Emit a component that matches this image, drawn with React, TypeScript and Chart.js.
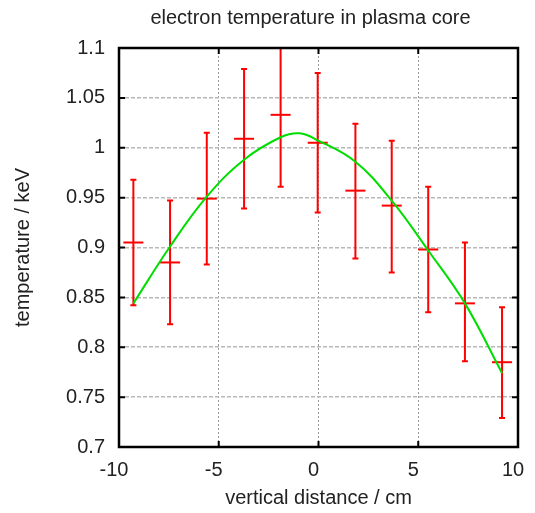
import { useEffect, useRef } from "react";
import { Chart, registerables } from "chart.js";

Chart.register(...registerables);

const chartTitle = "electron temperature in plasma core";
const xAxisTitle = "vertical distance / cm";
const yAxisTitle = "temperature / keV";

const xTicks = [-10, -5, 0, 5, 10];
const xTickLabels = ["-10", "-5", "0", "5", "10"];
const yTicks = [0.7, 0.75, 0.8, 0.85, 0.9, 0.95, 1.0, 1.05, 1.1];
const yTickLabels = ["0.7", "0.75", "0.8", "0.85", "0.9", "0.95", "1", "1.05", "1.1"];

// measurements
const xPos = [-9.28, -7.44, -5.6, -3.73, -1.9, -0.04, 1.85, 3.67, 5.5, 7.34, 9.2];
const temp = [0.905, 0.885, 0.949, 1.009, 1.033, 1.005, 0.957, 0.942, 0.898, 0.844, 0.785];
const errLow = [0.842, 0.823, 0.883, 0.939, 0.961, 0.935, 0.889, 0.875, 0.835, 0.786, 0.729];
const errHigh = [0.968, 0.947, 1.015, 1.079, 1.105, 1.075, 1.024, 1.007, 0.961, 0.905, 0.84];

// fitted profile
const fitX = [-9.28, -7.44, -5.6, -3.73, -1.9, -0.95, -0.04, 1.85, 3.67, 5.5, 7.34, 9.2];
const fitY = [0.844, 0.901, 0.951, 0.988, 1.0105, 1.0145, 1.0075, 0.986, 0.947, 0.897, 0.844, 0.774];

const FONT = '"Liberation Sans", Arial, Helvetica, sans-serif';
const TEXT = "#222";
const FS = 20;

const decorPlugin = {
  id: "decor",
  beforeDatasetsDraw(chart: any) {
    const { ctx, chartArea: a, scales } = chart;
    const x = scales.x;
    const y = scales.y;
    ctx.save();
    ctx.beginPath();
    ctx.rect(a.left, a.top, a.right - a.left, a.bottom - a.top);
    ctx.clip();
    ctx.strokeStyle = "#ff0000";
    ctx.lineWidth = 2;
    for (let i = 0; i < xPos.length; i++) {
      const px = x.getPixelForValue(xPos[i]);
      const lo = y.getPixelForValue(errLow[i]);
      const hi = y.getPixelForValue(errHigh[i]);
      ctx.beginPath();
      ctx.moveTo(px, lo);
      ctx.lineTo(px, hi);
      ctx.moveTo(px - 3, lo);
      ctx.lineTo(px + 3, lo);
      ctx.moveTo(px - 3, hi);
      ctx.lineTo(px + 3, hi);
      ctx.stroke();
    }
    ctx.restore();
  },
  afterDraw(chart: any) {
    const { ctx, chartArea: a, scales } = chart;
    const x = scales.x;
    const y = scales.y;
    ctx.save();
    ctx.fillStyle = TEXT;
    ctx.font = `${FS}px ${FONT}`;
    ctx.textAlign = "center";
    ctx.textBaseline = "middle";
    ctx.fillText(chartTitle, (a.left + a.right) / 2 - 8, 18);

    ctx.strokeStyle = "#000";
    ctx.lineWidth = 2;
    ctx.beginPath();
    for (let i = 1; i < yTicks.length - 1; i++) {
      const py = y.getPixelForValue(yTicks[i]);
      ctx.moveTo(a.left, py);
      ctx.lineTo(a.left + 6, py);
      ctx.moveTo(a.right, py);
      ctx.lineTo(a.right - 6, py);
    }
    for (let i = 1; i < xTicks.length - 1; i++) {
      const px = x.getPixelForValue(xTicks[i]);
      ctx.moveTo(px, a.bottom);
      ctx.lineTo(px, a.bottom - 6);
      ctx.moveTo(px, a.top);
      ctx.lineTo(px, a.top + 6);
    }
    ctx.stroke();
    ctx.lineWidth = 2.5;
    ctx.strokeRect(a.left, a.top, a.right - a.left, a.bottom - a.top);
    ctx.restore();
  },
};

export default function App() {
  const ref = useRef<HTMLCanvasElement>(null);
  useEffect(() => {
    document.body.style.margin = "0";
    const canvas = ref.current!;
    const chart = new Chart(canvas, {
      type: "scatter",
      data: {
        datasets: [
          {
            label: "fit",
            data: fitX.map((v, i) => ({ x: v, y: fitY[i] })),
            showLine: true,
            borderColor: "#00dd00",
            borderWidth: 2,
            pointRadius: 0,
            tension: 0.4,
            order: 0,
          } as any,
          {
            label: "data",
            data: xPos.map((v, i) => ({ x: v, y: temp[i] })),
            showLine: false,
            pointStyle: "line",
            pointRadius: 10,
            borderColor: "#ff0000",
            backgroundColor: "#ff0000",
            borderWidth: 2,
            order: 1,
          } as any,
        ],
      },
      options: {
        responsive: false,
        animation: false,
        layout: { padding: { top: 48, right: 17, left: 0, bottom: 0 } },
        plugins: {
          legend: { display: false },
          tooltip: { enabled: false },
          title: { display: false },
        },
        scales: {
          x: {
            type: "linear",
            min: -10,
            max: 10,
            afterBuildTicks: (s: any) => {
              s.ticks = xTicks.map((v) => ({ value: v }));
            },
            afterFit: (s: any) => {
              s.height = 66;
              s.paddingLeft = 0;
              s.paddingRight = 0;
            },
            ticks: {
              callback: (_v: any, i: number) => xTickLabels[i],
              font: { family: FONT, size: FS },
              color: TEXT,
              padding: 11,
              labelOffset: -5,
              maxRotation: 0,
            },
            grid: {
              drawTicks: false,
              color: (c: any) =>
                c.tick && (c.tick.value === -10 || c.tick.value === 10) ? "rgba(0,0,0,0)" : "#9a9a9a",
              lineWidth: 1,
            },
            border: { display: false, dash: [2, 2] },
            title: {
              display: true,
              text: xAxisTitle,
              font: { family: FONT, size: FS },
              color: TEXT,
              padding: { top: 0, bottom: 3 },
            },
          },
          y: {
            type: "linear",
            min: 0.7,
            max: 1.1,
            afterBuildTicks: (s: any) => {
              s.ticks = yTicks.map((v) => ({ value: v }));
            },
            afterFit: (s: any) => {
              s.width = 119;
            },
            ticks: {
              callback: (_v: any, i: number) => yTickLabels[i],
              font: { family: FONT, size: FS },
              color: TEXT,
              padding: 14,
            },
            grid: {
              drawTicks: false,
              color: (c: any) =>
                c.tick && (Math.abs(c.tick.value - 0.7) < 1e-6 || Math.abs(c.tick.value - 1.1) < 1e-6)
                  ? "rgba(0,0,0,0)"
                  : "#b8b8b8",
              lineWidth: 1.5,
            },
            border: { display: false, dash: [4, 2] },
            title: {
              display: true,
              text: yAxisTitle,
              font: { family: FONT, size: FS },
              color: TEXT,
              padding: { top: 11, bottom: 0 },
            },
          },
        },
      },
      plugins: [decorPlugin],
    });
    return () => chart.destroy();
  }, []);
  return (
    <div style={{ width: 535, height: 513 }}>
      <canvas ref={ref} width={535} height={513} style={{ display: "block" }} />
    </div>
  );
}
